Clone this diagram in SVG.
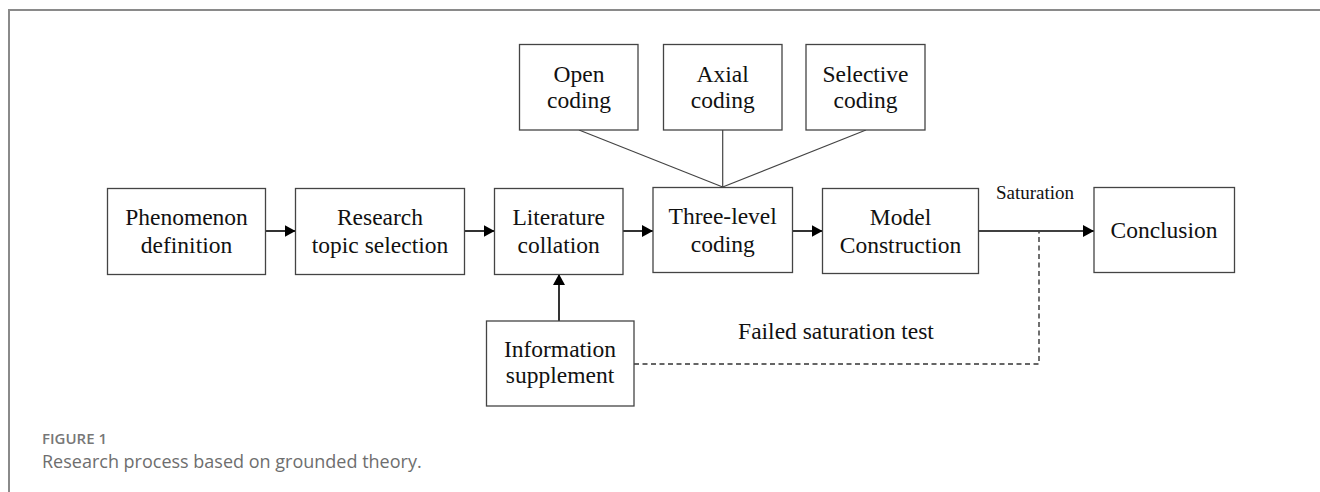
<svg xmlns="http://www.w3.org/2000/svg" width="1320" height="492" viewBox="0 0 1320 492">
<defs>
<marker id="arr" viewBox="0 0 11 12" refX="11" refY="6" markerWidth="11" markerHeight="12" markerUnits="userSpaceOnUse" orient="auto">
<path d="M0,0 L11,6 L0,12 Z" fill="#000"/>
</marker>
<style>
.box{fill:#fff;stroke:#444;stroke-width:1.3}
.t{font-family:"Liberation Serif","Times New Roman",serif;font-size:23.5px;fill:#111;text-anchor:middle}
.s{font-family:"Liberation Serif","Times New Roman",serif;font-size:19px;fill:#111}
.arrow{stroke:#000;stroke-width:1.6;fill:none;marker-end:url(#arr)}
.line{stroke:#444;stroke-width:1.2;fill:none}
.dash{stroke:#333;stroke-width:1.4;fill:none;stroke-dasharray:5 3.5}
.frame{stroke:#8a8a8a;stroke-width:2;fill:none}
</style>
</defs>
<rect width="1320" height="492" fill="#fff"/>
<path class="frame" d="M9,492 V10 H1320"/>
<g id="connectors">
<line class="line" x1="579" y1="130" x2="722.7" y2="187"/>
<line class="line" x1="722.7" y1="130" x2="722.7" y2="187"/>
<line class="line" x1="866" y1="130" x2="722.7" y2="187"/>
<line class="arrow" x1="266" y1="231" x2="295.5" y2="231"/>
<line class="arrow" x1="464" y1="231" x2="494.5" y2="231"/>
<line class="arrow" x1="623" y1="231" x2="653" y2="231"/>
<line class="arrow" x1="792.6" y1="231" x2="822.5" y2="231"/>
<line class="arrow" x1="978.6" y1="231" x2="1094" y2="231"/>
<line class="arrow" x1="559" y1="321" x2="559" y2="274"/>
<path class="dash" d="M634,364 H1039 V232"/>
<text class="s" x="996" y="199">Saturation</text>
<text class="t" x="836" y="339">Failed saturation test</text>
</g>
<g id="phenomenon">
<rect class="box" x="107.5" y="188.5" width="158" height="86"/>
<text class="t" x="186.5" y="225">Phenomenon</text>
<text class="t" x="186.5" y="252.5">definition</text>
</g>
<g id="research">
<rect class="box" x="295.5" y="188.5" width="169" height="86"/>
<text class="t" x="380" y="225">Research</text>
<text class="t" x="380" y="252.5">topic selection</text>
</g>
<g id="literature">
<rect class="box" x="494.5" y="188.5" width="128.5" height="86"/>
<text class="t" x="558.7" y="225">Literature</text>
<text class="t" x="558.7" y="252.5">collation</text>
</g>
<g id="three-level">
<rect class="box" x="653" y="187.5" width="139.5" height="85"/>
<text class="t" x="722.7" y="224">Three-level</text>
<text class="t" x="722.7" y="252">coding</text>
</g>
<g id="model">
<rect class="box" x="822.5" y="188.5" width="156" height="85"/>
<text class="t" x="900.5" y="225">Model</text>
<text class="t" x="900.5" y="252.5">Construction</text>
</g>
<g id="conclusion">
<rect class="box" x="1094" y="187.5" width="140.5" height="85"/>
<text class="t" x="1164" y="238">Conclusion</text>
</g>
<g id="open-coding">
<rect class="box" x="519.5" y="44.5" width="118.5" height="85.5"/>
<text class="t" x="579" y="82">Open</text>
<text class="t" x="579" y="108">coding</text>
</g>
<g id="axial-coding">
<rect class="box" x="663.5" y="44.5" width="118.5" height="85.5"/>
<text class="t" x="722.7" y="82">Axial</text>
<text class="t" x="722.7" y="108">coding</text>
</g>
<g id="selective-coding">
<rect class="box" x="806" y="44.5" width="119" height="85.5"/>
<text class="t" x="865.5" y="82">Selective</text>
<text class="t" x="865.5" y="108">coding</text>
</g>
<g id="information">
<rect class="box" x="486.5" y="321" width="147.5" height="85"/>
<text class="t" x="560" y="357">Information</text>
<text class="t" x="560" y="383">supplement</text>
</g>
<g id="caption">
<text x="42" y="444" font-family="'Open Sans','Liberation Sans',sans-serif" font-size="15" font-weight="600" fill="#777">FIGURE 1</text>
<text x="42" y="468" font-family="'Open Sans','Liberation Sans',sans-serif" font-size="18" fill="#6e6e6e">Research process based on grounded theory.</text>
</g>
</svg>
